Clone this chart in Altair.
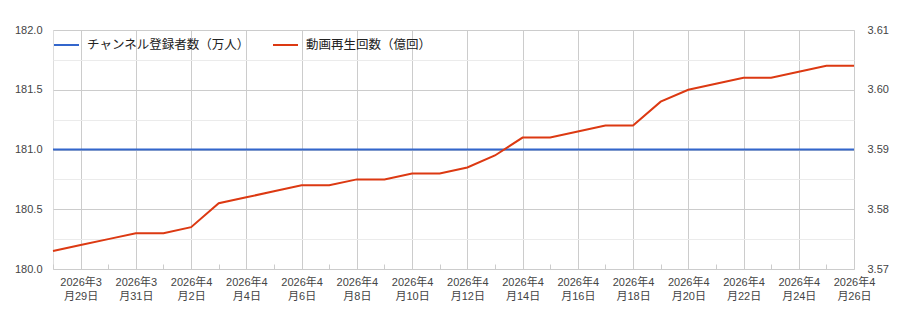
import json
import altair as alt
import pandas as pd

# ---- data ----
dates = [
    "2026-03-28", "2026-03-29", "2026-03-30", "2026-03-31",
    "2026-04-01", "2026-04-02", "2026-04-03", "2026-04-04", "2026-04-05",
    "2026-04-06", "2026-04-07", "2026-04-08", "2026-04-09", "2026-04-10",
    "2026-04-11", "2026-04-12", "2026-04-13", "2026-04-14", "2026-04-15",
    "2026-04-16", "2026-04-17", "2026-04-18", "2026-04-19", "2026-04-20",
    "2026-04-21", "2026-04-22", "2026-04-23", "2026-04-24", "2026-04-25",
    "2026-04-26",
]
subscribers = [
    181.0, 181.0, 181.0, 181.0, 181.0, 181.0, 181.0, 181.0, 181.0, 181.0,
    181.0, 181.0, 181.0, 181.0, 181.0, 181.0, 181.0, 181.0, 181.0, 181.0,
    181.0, 181.0, 181.0, 181.0, 181.0, 181.0, 181.0, 181.0, 181.0, 181.0,
]
views = [
    3.573, 3.574, 3.575, 3.576, 3.576, 3.577, 3.581, 3.582, 3.583, 3.584,
    3.584, 3.585, 3.585, 3.586, 3.586, 3.587, 3.589, 3.592, 3.592, 3.593,
    3.594, 3.594, 3.598, 3.600, 3.601, 3.602, 3.602, 3.603, 3.604, 3.604,
]
series_names = ["チャンネル登録者数（万人）", "動画再生回数（億回）"]
series_colors = ["#3366cc", "#dc3912"]
left_ticks = [180.0, 180.25, 180.5, 180.75, 181.0, 181.25, 181.5, 181.75, 182.0]
right_ticks = [3.57, 3.58, 3.59, 3.60, 3.61]

FONT = "Liberation Sans, Arial, Noto Sans CJK JP"

idx = list(range(len(dates)))


def two_line(d):
    y, m, dd = d.split("-")
    return [f"{y}年{int(m)}", f"月{int(dd)}日"]


label_arr = [two_line(d) if i % 2 == 1 else "" for i, d in enumerate(dates)]
x_label_expr = json.dumps(label_arr, ensure_ascii=False) + "[datum.value]"

df_sub = pd.DataFrame({"idx": idx, "value": subscribers, "series": series_names[0]})
df_view = pd.DataFrame({"idx": idx, "value": views, "series": series_names[1]})

x_scale = alt.Scale(domain=[0, len(dates) - 1], nice=False, zero=False)

color = alt.Color(
    "series:N",
    scale=alt.Scale(domain=series_names, range=series_colors),
    legend=alt.Legend(
        title=None,
        orient="none",
        legendX=0,
        legendY=1.5,
        direction="horizontal",
        symbolType="stroke",
        symbolSize=625,
        symbolStrokeWidth=2,
        labelFontSize=12.5,
        labelFont=FONT,
        labelColor="#222222",
        labelOffset=7,
        columnPadding=19,
        padding=0,
        labelLimit=400,
    ),
)

x_axis = alt.Axis(
    values=idx,
    title=None,
    domain=False,
    grid=True,
    gridColor={"condition": {"test": "datum.value % 2 === 1", "value": "#cccccc"}, "value": "transparent"},
    gridWidth=1,
    ticks=True,
    tickSize=5,
    tickColor={"condition": {"test": "datum.value % 2 === 0", "value": "#cccccc"}, "value": "transparent"},
    offset=-5,
    labelExpr=x_label_expr,
    labelFont=FONT,
    labelFontSize=11,
    labelColor="#444444",
    labelPadding=7,
    labelLineHeight=14,
    labelFlush=False,
    labelOverlap=False,
    labelBound=False,
)

blue = alt.Chart(df_sub).mark_line(strokeWidth=2).encode(
    x=alt.X("idx:Q", scale=x_scale, axis=x_axis),
    y=alt.Y(
        "value:Q",
        scale=alt.Scale(domain=[180, 182], nice=False, zero=False),
        axis=alt.Axis(
            orient="left",
            values=left_ticks,
            title=None,
            domain=False,
            ticks=False,
            grid=True,
            gridColor={"condition": {"test": "datum.value % 0.5 === 0", "value": "#cccccc"}, "value": "#ebebeb"},
            labelExpr="datum.value % 0.5 === 0 ? format(datum.value, '.1f') : ''",
            labelFont=FONT,
            labelFontSize=11,
            labelColor="#444444",
            labelPadding=11,
        ),
    ),
    color=color,
)

red = alt.Chart(df_view).mark_line(strokeWidth=2).encode(
    x=alt.X("idx:Q", scale=x_scale, axis=x_axis),
    y=alt.Y(
        "value:Q",
        scale=alt.Scale(domain=[3.57, 3.61], nice=False, zero=False),
        axis=alt.Axis(
            orient="right",
            values=right_ticks,
            title=None,
            domain=False,
            ticks=False,
            grid=False,
            format=".2f",
            labelFont=FONT,
            labelFontSize=11,
            labelColor="#444444",
            labelPadding=13,
        ),
    ),
    color=color,
)

chart = (
    alt.layer(blue, red)
    .resolve_scale(y="independent")
    .properties(
        width=801,
        height=239,
        autosize=alt.AutoSizeParams(type="none"),
        padding={"left": 53, "top": 30, "right": 58, "bottom": 62},
    )
    .configure_view(stroke=None)
    .configure(background="white")
)

chart.save("out.html", embed_options={"renderer": "svg", "actions": False})
